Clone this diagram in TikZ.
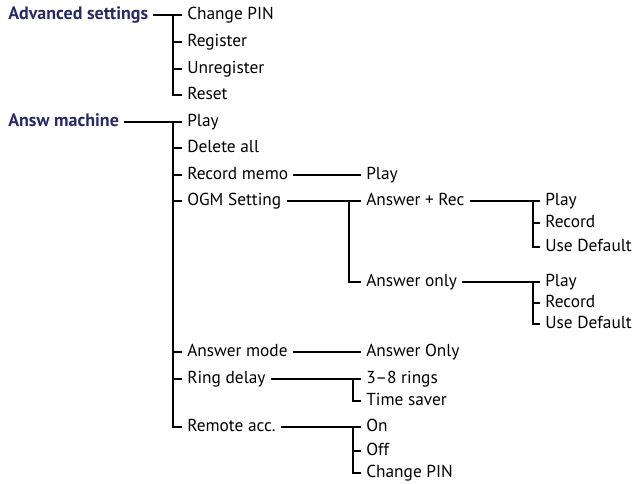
\documentclass[tikz,border=0pt]{standalone}
\usepackage{fontspec}
\setmainfont{PT Sans}
\definecolor{menublue}{RGB}{40,42,100}
\tikzset{
  item/.style={anchor=west, inner xsep=3.75pt, inner ysep=0pt,
    text height=9pt, text depth=2.5pt, font=\fontsize{13}{15}\selectfont},
  head/.style={item, font=\fontsize{13.5}{15}\selectfont\bfseries, text=menublue},
  branch/.style={line width=0.9pt}
}

\begin{document}
\begin{tikzpicture}[x=0.75pt, y=-0.75pt]
    \useasboundingbox (0,0) rectangle (633,483);

    % Advanced settings menu
    \node (adv) at (3,15) [head] {Advanced settings};
    \node (advA) at (182,15) [item] {Change PIN};
    \node (advB) at (182,42) [item] {Register};
    \node (advC) at (182,69) [item] {Unregister};
    \node (advD) at (182,95) [item] {Reset};
    \coordinate (advJ) at (173,15);

    \draw[branch] (adv.east) -- (advA.west);
    \draw[branch] (advJ) |- (advD.west);
    \foreach \n in {B,C}
        \draw[branch] (advJ |- adv\n.west) -- (adv\n.west);

    % Answering machine menu
    \node (ans) at (3,122) [head] {Answ machine};
    \node (ansA) at (182,122) [item] {Play};
    \node (ansB) at (182,148) [item] {Delete all};
    \node (ansC) at (182,175) [item] {Record memo};
    \node (ansD) at (182,201) [item] {OGM Setting};
    \node (ansE) at (182,352) [item] {Answer mode};
    \node (ansF) at (182,379) [item] {Ring delay};
    \node (ansG) at (182,427) [item] {Remote acc.};
    \coordinate (ansJ) at (173,122);

    \draw[branch] (ans.east) -- (ansA.west);
    \draw[branch] (ansJ) |- (ansG.west);
    \foreach \n in {B,C,D,E,F}
        \draw[branch] (ansJ |- ans\n.west) -- (ans\n.west);

    % Record memo
    \node (memoA) at (361,175) [item] {Play};
    \draw[branch] (ansC.east) -- (memoA.west);

    % OGM setting
    \node (ogmA) at (361,201) [item] {Answer + Rec};
    \node (ogmB) at (361,282) [item] {Answer only};
    \coordinate (ogmJ) at (349,201);
    \draw[branch] (ansD.east) -- (ogmA.west);
    \draw[branch] (ogmJ) |- (ogmB.west);

    % Answer + Rec
    \node (recA) at (540,201) [item] {Play};
    \node (recB) at (540,223) [item] {Record};
    \node (recC) at (540,247) [item] {Use Default};
    \coordinate (recJ) at (533,201);
    \draw[branch] (ogmA.east) -- (recA.west);
    \draw[branch] (recJ) |- (recC.west);
    \draw[branch] (recJ |- recB.west) -- (recB.west);

    % Answer only
    \node (onlyA) at (540,282) [item] {Play};
    \node (onlyB) at (540,303) [item] {Record};
    \node (onlyC) at (540,324) [item] {Use Default};
    \coordinate (onlyJ) at (533,282);
    \draw[branch] (ogmB.east) -- (onlyA.west);
    \draw[branch] (onlyJ) |- (onlyC.west);
    \draw[branch] (onlyJ |- onlyB.west) -- (onlyB.west);

    % Answer mode
    \node (modeA) at (361,352) [item] {Answer Only};
    \draw[branch] (ansE.east) -- (modeA.west);

    % Ring delay
    \node (ringA) at (361,379) [item] {3–8 rings};
    \node (ringB) at (361,401) [item] {Time saver};
    \coordinate (ringJ) at (353,379);
    \draw[branch] (ansF.east) -- (ringA.west);
    \draw[branch] (ringJ) |- (ringB.west);

    % Remote access
    \node (remA) at (361,427) [item] {On};
    \node (remB) at (361,451) [item] {Off};
    \node (remC) at (361,473) [item] {Change PIN};
    \coordinate (remJ) at (353,427);
    \draw[branch] (ansG.east) -- (remA.west);
    \draw[branch] (remJ) |- (remC.west);
    \draw[branch] (remJ |- remB.west) -- (remB.west);

\end{tikzpicture}
\end{document}
